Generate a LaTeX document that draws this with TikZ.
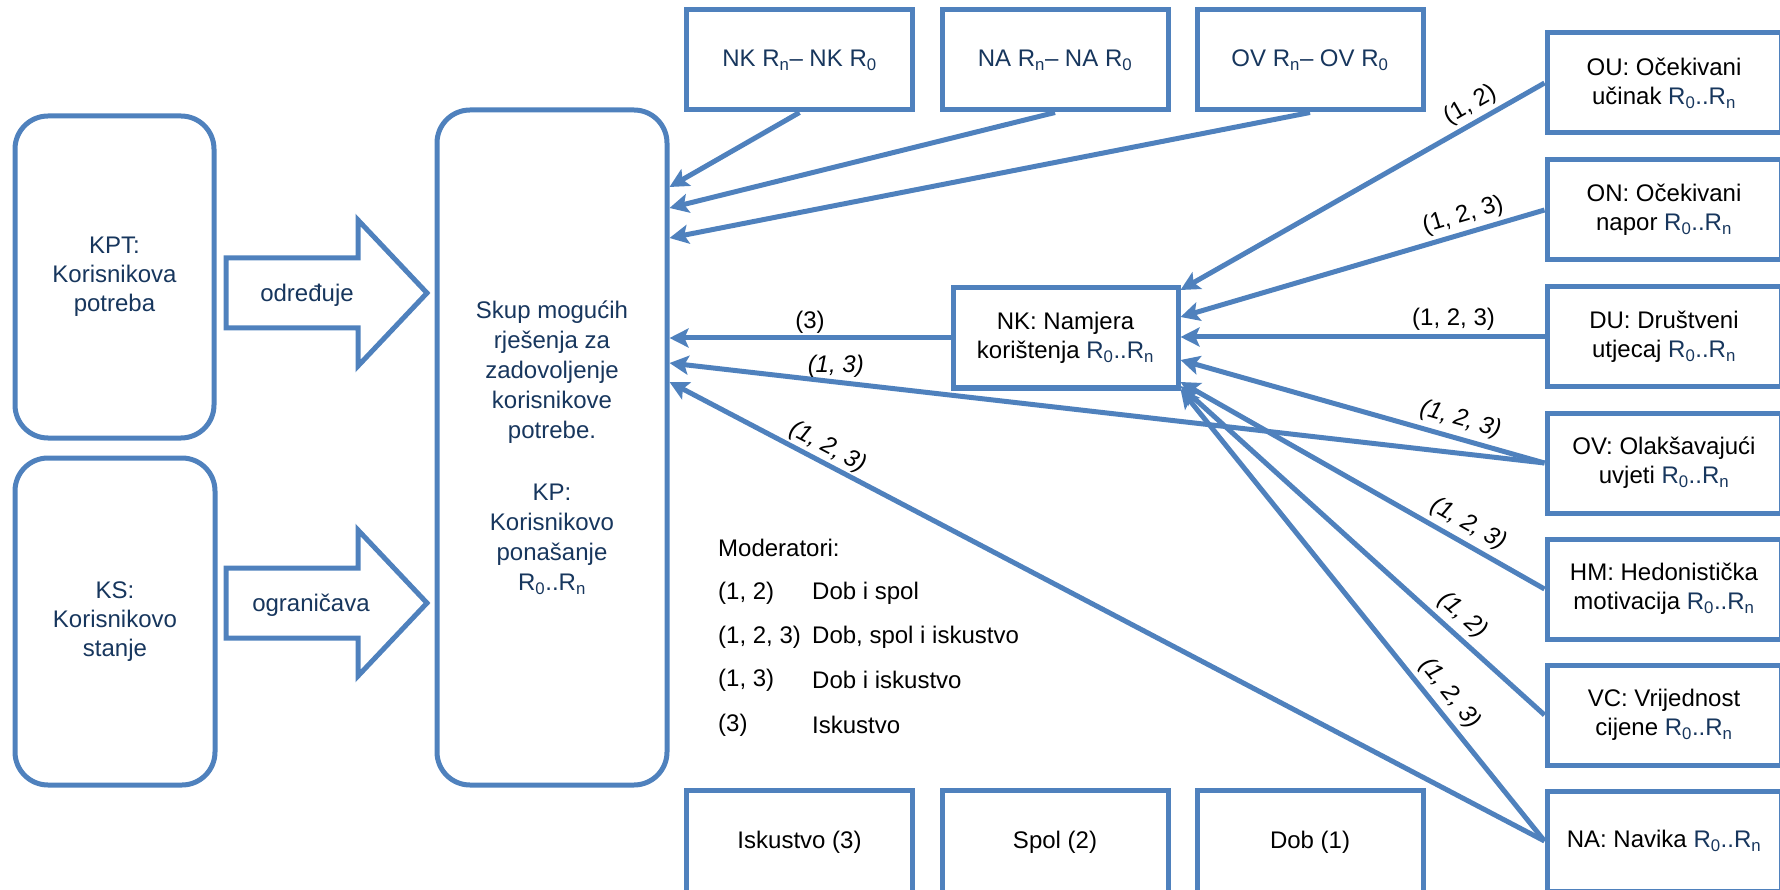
\documentclass[tikz,border=0pt]{standalone}
\usepackage{fontspec}
\setmainfont{Liberation Sans}
\usepackage{tikz}
\usetikzlibrary{arrows.meta}

\definecolor{boxblue}{HTML}{4F81BD}
\definecolor{navy}{HTML}{17365D}

\newcommand{\rr}{\textcolor{navy}{R\textsubscript{0}..R\textsubscript{n}}}

\begin{document}
\begin{tikzpicture}[x=1pt,y=-1pt,
  font=\fontsize{24}{29}\selectfont,
  rbox/.style={draw=boxblue,line width=5pt,rounded corners=33pt,align=center,text=navy},
  sbox/.style={draw=boxblue,line width=5pt,align=center,minimum width=226pt,minimum height=100pt},
  pbox/.style={sbox,minimum width=234pt},
  arr/.style={draw=boxblue,line width=5pt,-{Stealth[length=19pt,width=19pt,inset=4pt]}},
  lab/.style={inner sep=2pt,text=black},
  ilab/.style={lab,font=\fontsize{24}{29}\selectfont\itshape},
  slab/.style={lab,inner sep=4pt,sloped},
  silab/.style={ilab,inner sep=5pt,sloped},
  leg/.style={anchor=west,inner sep=0pt}]

  \useasboundingbox (0,0) rectangle (1780,890);

  % Left side: need, state and behaviour
  \node[rbox,minimum width=199pt,minimum height=322pt] (kpt) at (114.5,277) {KPT:\\Korisnikova\\potreba};
  \node[rbox,minimum width=200pt,minimum height=327pt] (ks) at (115,621.5) {KS:\\Korisnikovo\\stanje};
  \node[rbox,minimum width=230pt,minimum height=675pt,font=\fontsize{24}{30}\selectfont] (kp) at (552,447.5)
    {Skup mogućih\\rješenja za\\zadovoljenje\\korisnikove\\potrebe.\\[32pt]KP:\\Korisnikovo\\ponašanje\\R\textsubscript{0}..R\textsubscript{n}};

  % Block arrows
  \draw[boxblue,line width=5pt,line join=miter] (226,258) -- (358,258) -- (358,220) -- (427,293)
    -- (358,366) -- (358,328) -- (226,328) -- cycle;
  \node[text=navy] (odr) at (307,295) {određuje};
  \draw[boxblue,line width=5pt,line join=miter] (226,568) -- (358,568) -- (358,530) -- (427,603)
    -- (358,676) -- (358,638) -- (226,638) -- cycle;
  \node[text=navy] (ogr) at (311,605) {ograničava};

  % Differences (top) and moderators (bottom)
  \node[sbox,text=navy] (dnk) at (799.5,60) {NK R\textsubscript{n}– NK R\textsubscript{0}};
  \node[sbox,text=navy] (dna) at (1055,60) {NA R\textsubscript{n}– NA R\textsubscript{0}};
  \node[sbox,text=navy] (dov) at (1310,60) {OV R\textsubscript{n}– OV R\textsubscript{0}};
  \node[sbox,minimum height=104pt] (isk) at (799.5,842) {Iskustvo (3)};
  \node[sbox,minimum height=104pt] (spol) at (1055,842) {Spol (2)};
  \node[sbox,minimum height=104pt] (dob) at (1310,842) {Dob (1)};

  % Intention and its factors
  \node[sbox,minimum width=225pt] (nk) at (1065.5,338) {NK: Namjera\\korištenja \rr};
  \node[pbox] (ou) at (1664,83) {OU: Očekivani\\učinak \rr};
  \node[pbox] (on) at (1664,210) {ON: Očekivani\\napor \rr};
  \node[pbox] (du) at (1664,337) {DU: Društveni\\utjecaj \rr};
  \node[pbox] (ov) at (1664,463) {OV: Olakšavajući\\uvjeti \rr};
  \node[pbox] (hm) at (1664,589) {HM: Hedonistička\\motivacija \rr};
  \node[pbox] (vc) at (1664,715) {VC: Vrijednost\\cijene \rr};
  \node[pbox] (na) at (1664,841) {NA: Navika \rr};

  % Legend
  \node[leg] (modt) at (718,548) {Moderatori:};
  \node[leg] (m12) at (718,593) {(1, 2)};
  \node[leg] (t12) at (812,593) {Dob i spol};
  \node[leg] (m123) at (718,637) {(1, 2, 3)};
  \node[leg] (t123) at (812,637) {Dob, spol i iskustvo};
  \node[leg] (m13) at (718,680) {(1, 3)};
  \node[leg] (t13) at (812,680) {Dob i iskustvo};
  \node[leg] (m3) at (718,725) {(3)};
  \node[leg] (t3) at (812,725) {Iskustvo};

  % Arrows into the set of solutions
  \draw[arr] (dnk.south) -- (kp.east |- 0,187);
  \draw[arr] (dna.south) -- (kp.east |- 0,208);
  \draw[arr] (dov.south) -- (kp.east |- 0,238);
  \draw[arr] (nk.west) -- node[lab,above,pos=0.5] (l3) {(3)} (kp.east |- nk.west);
  \draw[arr] (ov.west) -- node[ilab,above,pos=0.81] (l13) {(1, 3)} (kp.east |- 0,363);
  \draw[arr] (na.west) -- node[ilab,above,sloped,pos=0.827] (l123) {(1, 2, 3)} (kp.east |- 0,382);

  % Arrows into the intention
  \draw[arr] (ou.west) -- node[slab,above,pos=0.18] (lou) {(1, 2)} (nk.east |- 0,290);
  \draw[arr] (on.west) -- node[slab,above,pos=0.21] (lon) {(1, 2, 3)} (nk.east |- 0,317);
  \draw[arr] (du.west) -- node[lab,inner sep=4pt,above,pos=0.25] (ldu) {(1, 2, 3)} (nk.east |- du.west);
  \draw[arr] (ov.west) -- node[silab,above,pos=0.245] (lov) {(1, 2, 3)} (nk.east |- 0,360);
  \draw[arr] (hm.west) -- node[silab,above,pos=0.235] (lhm) {(1, 2, 3)} (nk.east |- 0,382);
  \draw[arr] (vc.west) -- node[silab,above,pos=0.26] (lvc) {(1, 2)} (nk.east |- 0,386);
  \draw[arr] (na.west) -- node[silab,above,pos=0.3] (lna) {(1, 2, 3)} (nk.east |- 0,389);

\end{tikzpicture}
\end{document}
